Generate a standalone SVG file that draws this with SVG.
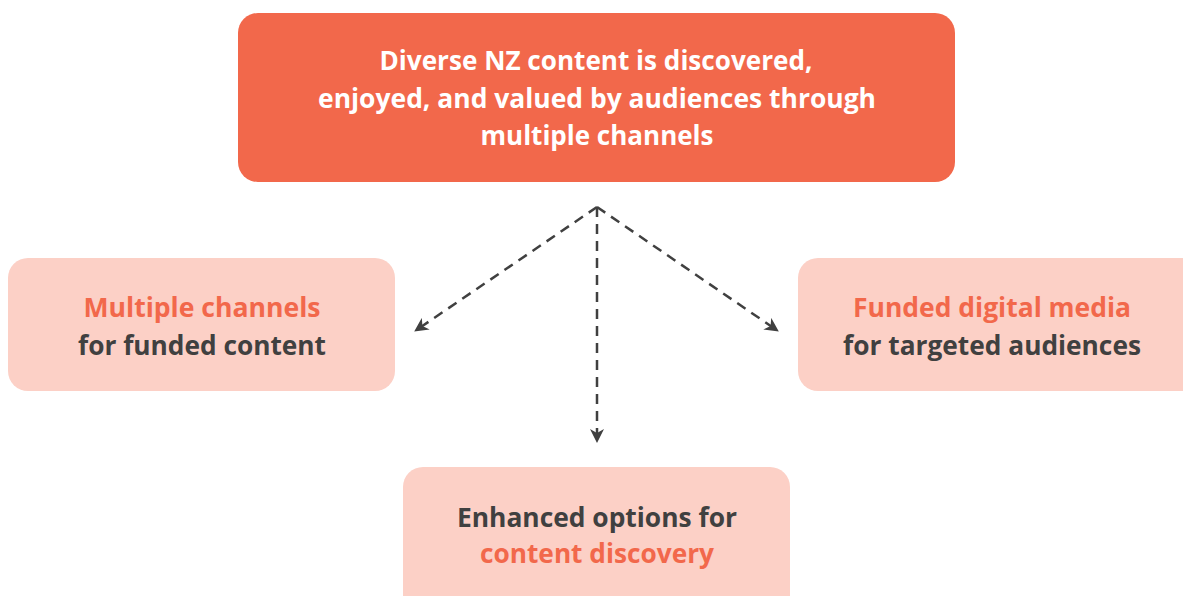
<svg xmlns="http://www.w3.org/2000/svg" width="1183" height="596" viewBox="0 0 1183 596">
  <defs>
    <style>
      .main { fill: #F2684B; }
      .sub { fill: #FCD0C6; }
      text { font-family: "Open Sans", "Liberation Sans", sans-serif; font-weight: 700; text-anchor: middle; }
      .t-main { fill: #FFFFFF; font-size: 26.5px; }
      .t-sub { font-size: 26px; }
      .accent { fill: #F2684B; }
      .dark { fill: #404040; }
      .link { fill: none; stroke: #404040; stroke-width: 2.5; stroke-dasharray: 10 7; }
    </style>
    <marker id="arrow" viewBox="0 0 14 14" refX="13" refY="7" markerWidth="14" markerHeight="14" markerUnits="userSpaceOnUse" orient="auto">
      <path d="M0,0 L14,7 L0,14 L4,7 Z" fill="#404040"/>
    </marker>
  </defs>

  <rect width="1183" height="596" fill="#FFFFFF"/>

  <g id="outcome">
    <rect class="main" x="238" y="13" width="717" height="169" rx="20"/>
    <text class="t-main" x="596" y="70" textLength="433" lengthAdjust="spacingAndGlyphs">Diverse NZ content is discovered,</text>
    <text class="t-main" x="597" y="108" textLength="558" lengthAdjust="spacingAndGlyphs">enjoyed, and valued by audiences through</text>
    <text class="t-main" x="597" y="145" textLength="233" lengthAdjust="spacingAndGlyphs">multiple channels</text>
  </g>

  <g id="connectors">
    <line class="link" x1="597" y1="207" x2="415" y2="331" marker-end="url(#arrow)"/>
    <line class="link" x1="597" y1="207" x2="597" y2="442" marker-end="url(#arrow)"/>
    <line class="link" x1="597" y1="207" x2="778" y2="331" marker-end="url(#arrow)"/>
  </g>

  <g id="multiple-channels">
    <rect class="sub" x="8" y="258" width="387" height="133" rx="20"/>
    <text class="t-sub accent" x="202" y="317" textLength="237" lengthAdjust="spacingAndGlyphs">Multiple channels</text>
    <text class="t-sub dark" x="202" y="355" textLength="248" lengthAdjust="spacingAndGlyphs">for funded content</text>
  </g>

  <g id="funded-digital-media">
    <rect class="sub" x="798" y="258" width="405" height="133" rx="20"/>
    <text class="t-sub accent" x="992" y="317" textLength="278" lengthAdjust="spacingAndGlyphs">Funded digital media</text>
    <text class="t-sub dark" x="992" y="355" textLength="298" lengthAdjust="spacingAndGlyphs">for targeted audiences</text>
  </g>

  <g id="content-discovery">
    <rect class="sub" x="403" y="467" width="387" height="150" rx="20"/>
    <text class="t-sub dark" x="597" y="527" textLength="280" lengthAdjust="spacingAndGlyphs">Enhanced options for</text>
    <text class="t-sub accent" x="597" y="563" textLength="234" lengthAdjust="spacingAndGlyphs">content discovery</text>
  </g>
</svg>
